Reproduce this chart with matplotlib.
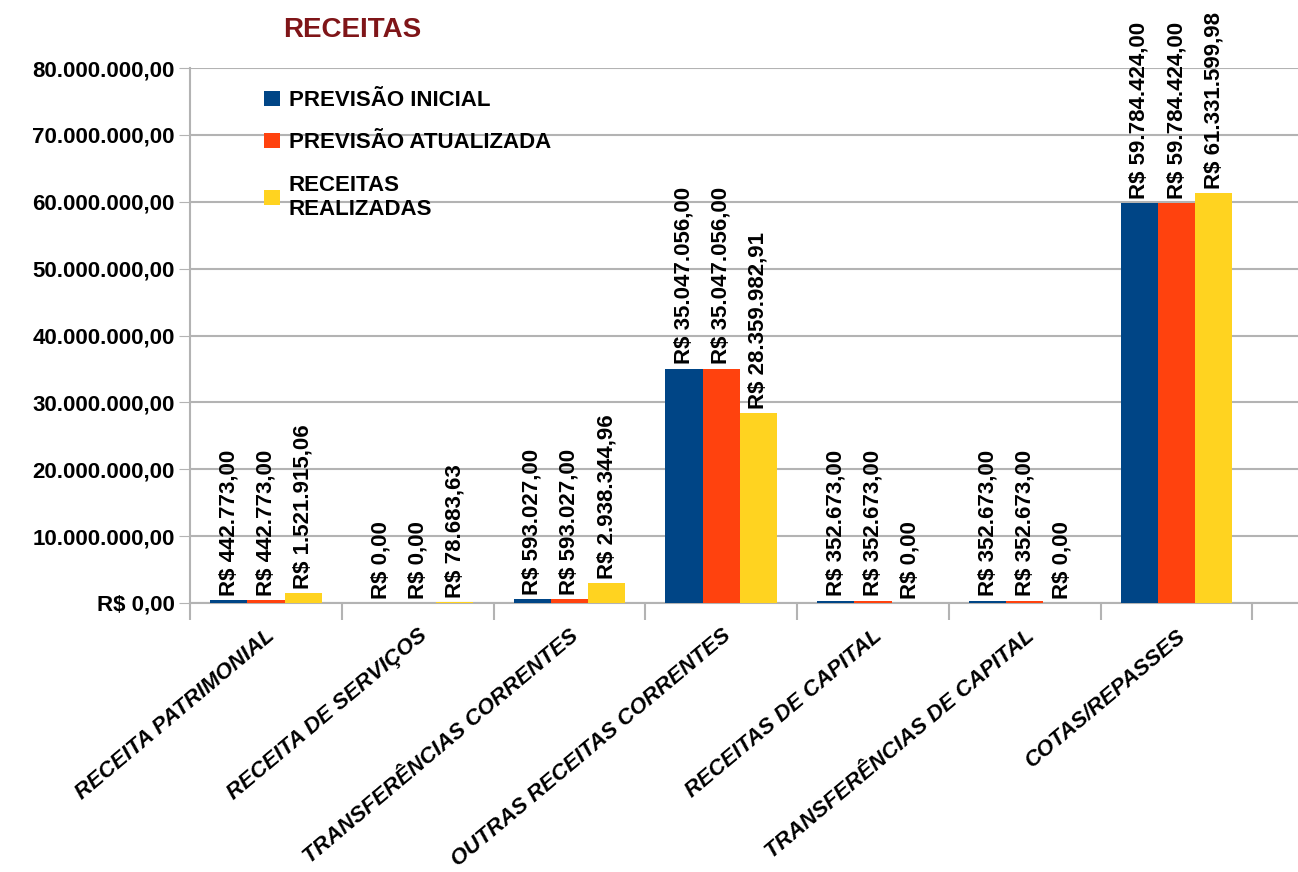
import matplotlib.pyplot as plt
import numpy as np
from matplotlib.ticker import FuncFormatter, FixedLocator

# dados
categorias = ["RECEITA PATRIMONIAL", "RECEITA DE SERVIÇOS", "TRANSFERÊNCIAS CORRENTES",
              "OUTRAS RECEITAS CORRENTES", "RECEITAS DE CAPITAL",
              "TRANSFERÊNCIAS DE CAPITAL", "COTAS/REPASSES"]
previsao_inicial = [442773.00, 0.00, 593027.00, 35047056.00, 352673.00, 352673.00, 59784424.00]
previsao_atualizada = [442773.00, 0.00, 593027.00, 35047056.00, 352673.00, 352673.00, 59784424.00]
receitas_realizadas = [1521915.06, 78683.63, 2938344.96, 28359982.91, 0.00, 0.00, 61331599.98]
series_nomes = ["PREVISÃO INICIAL", "PREVISÃO ATUALIZADA", "RECEITAS\nREALIZADAS"]
cores = ["#004586", "#ff420e", "#ffd320"]


def brl(v):
    s = f"{v:,.2f}"
    return s.replace(",", "X").replace(".", ",").replace("X", ".")


fonte = ["Liberation Sans", "DejaVu Sans"]

fig = plt.figure(figsize=(12.98, 8.72), dpi=100)
ax = fig.add_axes([0.1464, 0.3085, 0.8536, 0.6135])

x = np.arange(len(categorias))
w = 0.245
series = [previsao_inicial, previsao_atualizada, receitas_realizadas]
for i, (vals, cor, nome) in enumerate(zip(series, cores, series_nomes)):
    pos = x + (i - 1) * w
    bars = ax.bar(pos, vals, width=w, color=cor, label=nome, zorder=3)
    for b, v in zip(bars, vals):
        ax.annotate("R$ " + brl(v), (b.get_x() + b.get_width() / 2, b.get_height()),
                    xytext=(0, 3), textcoords="offset points", rotation=90,
                    ha="center", va="bottom", fontsize=16, fontweight="bold",
                    family=fonte, zorder=4)

ax.set_ylim(0, 80000000)
ax.set_xlim(-0.5, 6.8)
ax.yaxis.set_major_locator(FixedLocator(np.arange(0, 80000001, 10000000)))
ax.yaxis.set_major_formatter(FuncFormatter(lambda v, p: "R$ 0,00" if v == 0 else brl(v)))
for t in ax.get_yticklabels():
    t.set_fontweight("bold")
    t.set_family(fonte)
ax.tick_params(axis="y", labelsize=16, length=8, color="#b3b3b3", pad=3)
ax.grid(axis="y", color="#b3b3b3", linewidth=1.5, zorder=0)

ax.set_xticks(np.arange(-0.5, 7, 1))
ax.set_xticklabels([])
ax.set_xticks(x, minor=True)
ax.set_xticklabels(categorias, minor=True, rotation=40, ha="right",
                   rotation_mode="anchor", fontsize=16, fontweight="bold",
                   fontstyle="italic", family=fonte)
ax.tick_params(axis="x", which="major", length=12, color="#b3b3b3", width=1.5)
ax.tick_params(axis="x", which="minor", length=0, pad=16)

for s in ["top", "right"]:
    ax.spines[s].set_visible(False)
ax.spines["left"].set_color("#b3b3b3")
ax.spines["bottom"].set_color("#b3b3b3")
ax.spines["left"].set_linewidth(1.5)
ax.spines["bottom"].set_linewidth(1.5)

fig.text(0.271, 0.966, "RECEITAS", color="#7f1518", fontsize=20, fontweight="bold",
         family=fonte, ha="center", va="center")

leg = ax.legend(loc="upper left", bbox_to_anchor=(0.059, 0.975), frameon=False,
                prop={"family": fonte, "weight": "bold", "size": 16},
                handlelength=0.7, handleheight=0.7, handletextpad=0.4,
                labelspacing=0.95, borderaxespad=0)

fig.savefig("out.png", dpi=100, facecolor="white")
